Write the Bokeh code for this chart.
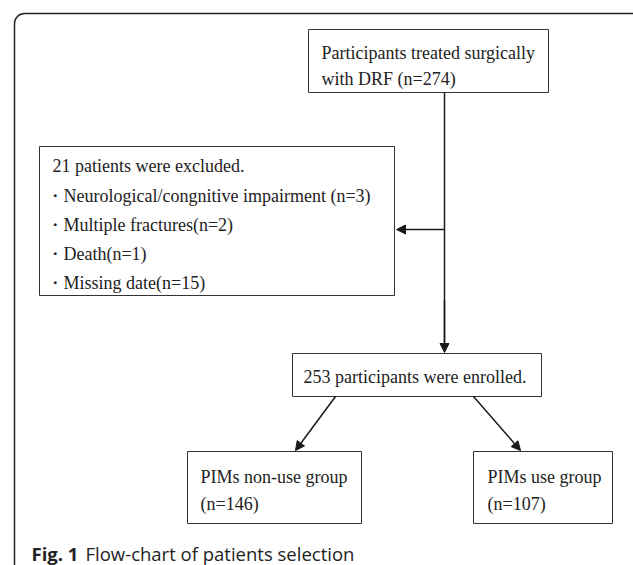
from bokeh.plotting import figure
from bokeh.models import Range1d, Arrow, NormalHead, BoxAnnotation
from bokeh.core.properties import value
from bokeh.embed import file_html
from bokeh.resources import INLINE

# ---- data ----
total = 274
reasons = ["Neurological/congnitive impairment", "Multiple fractures", "Death", "Missing date"]
reason_n = [3, 2, 1, 15]
excluded = sum(reason_n)
enrolled = total - excluded
groups = ["PIMs non-use group", "PIMs use group"]
group_n = [146, 107]

# ---- layout (pixel coordinates, y downward) ----
box_l = [308, 39, 292, 187, 473]
box_r = [548, 394, 541, 361, 612]
box_t = [29, 146, 353, 451, 451]
box_b = [92, 295, 396, 523, 523]

W, H = 633, 565
p = figure(width=W, height=H, output_backend="svg", toolbar_location=None,
           x_range=Range1d(0, W), y_range=Range1d(H, 0),
           min_border=0)
p.axis.visible = False
p.grid.visible = False
p.outline_line_color = None
p.background_fill_color = "white"
p.border_fill_color = "white"

# outer rounded frame (extends past the right and bottom edges)
frame = BoxAnnotation(left=14, right=641, top=13, bottom=575, border_radius=10,
                      fill_alpha=0, line_color="#222222", line_alpha=1.0,
                      line_width=1.5)
p.add_layout(frame)

# arrows
ink = "#1a1a1a"
p.segment(x0=[444], y0=[92], x1=[444], y1=[343], line_color=ink, line_width=1.5)
arrows = [
    (444, 229, 396, 229),
    (444, 300, 444, 352),
    (335, 396, 295, 450),
    (473, 396, 520, 450),
]
for (xs, ys, xe, ye) in arrows:
    p.add_layout(Arrow(end=NormalHead(size=9, fill_color=ink, line_color=ink),
                       x_start=xs, y_start=ys, x_end=xe, y_end=ye,
                       line_color=ink, line_width=1.5))

# boxes
p.quad(left=box_l, right=box_r, top=box_t, bottom=box_b,
       fill_color="white", line_color="#333333", line_width=1)

# texts
tx, ty, tt = [], [], []
tx += [321, 321]; ty += [52, 78]
tt += ["Participants treated surgically", f"with DRF (n={total})"]
tx.append(52); ty.append(165); tt.append(f"{excluded} patients were excluded.")
for i, (r, n) in enumerate(zip(reasons, reason_n)):
    sep = " " if i == 0 else ""
    tx.append(45); ty.append(195 + 29 * i); tt.append(f"・{r}{sep}(n={n})")
tx.append(303); ty.append(376); tt.append(f"{enrolled} participants were enrolled.")
tx += [200, 200, 487, 487]; ty += [476, 503, 476, 503]
tt += [groups[0], f"(n={group_n[0]})", groups[1], f"(n={group_n[1]})"]

p.text(x=tx, y=ty, text=tt, text_font=value("Liberation Serif"),
       text_font_size="18px", text_baseline="middle", text_align="left",
       text_color="#222222")

# caption
p.text(x=[31], y=[553], text=["Fig. 1"], text_font=value("Open Sans"),
       text_font_style="bold", text_font_size="18.5px", text_baseline="alphabetic",
       text_color="#222222")
p.text(x=[85], y=[553], text=["Flow-chart of patients selection"],
       text_font=value("Open Sans"), text_font_size="18.5px",
       text_baseline="alphabetic", text_color="#222222")

open("out.html", "w").write(file_html(p, INLINE))
